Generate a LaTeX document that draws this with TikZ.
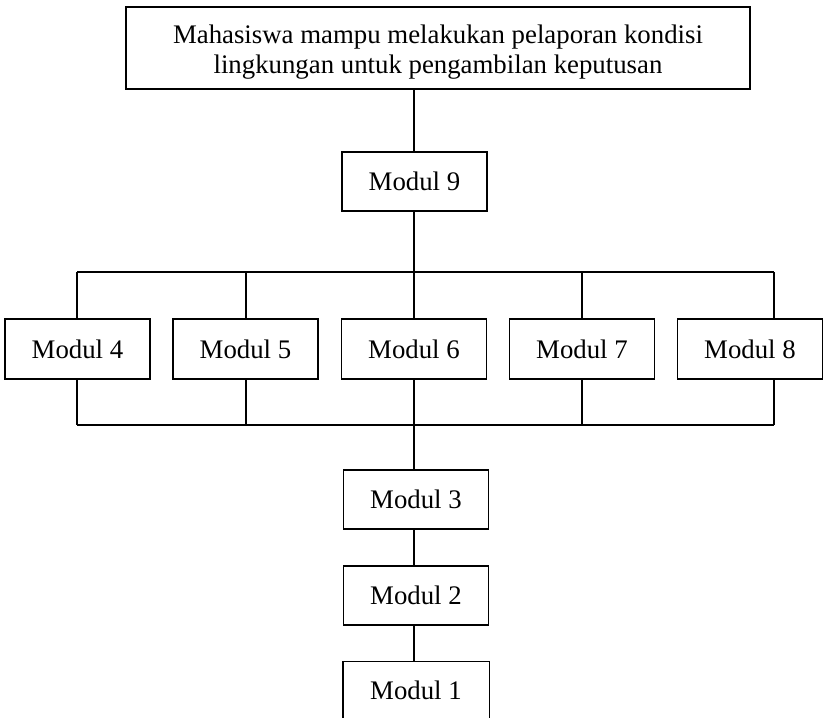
\documentclass[tikz,border=0pt]{standalone}
\usepackage{fontspec}
\setmainfont{Liberation Serif}
\begin{document}
\begin{tikzpicture}[x=1pt,y=-1pt,
  line/.style={line width=1.3pt},
  txt/.style={font=\fontsize{26.8}{30.5}\selectfont,inner sep=0pt},
  box/.style={draw,line width=1.3pt,rectangle,inner sep=0pt,minimum width=145pt,minimum height=60pt,txt,align=center},
  topbox/.style={box,minimum width=624pt,minimum height=82pt}]
\useasboundingbox (0,0) rectangle (823,718);
\node[topbox] (goal) at (438,48) {};
\node[txt,anchor=base] (goal1) at (438,43) {Mahasiswa mampu melakukan pelaporan kondisi};
\node[txt,anchor=base] (goal2) at (438,73) {lingkungan untuk pengambilan keputusan};
\node[box,minimum height=59pt] (m9) at (414.5,181.5) {Modul 9};
\node[box] (m4) at (77.5,349) {Modul 4};
\node[box] (m5) at (245.5,349) {Modul 5};
\node[box] (m6) at (414,349) {Modul 6};
\node[box] (m7) at (582,349) {Modul 7};
\node[box] (m8) at (750,349) {Modul 8};
\node[box,minimum height=59pt] (m3) at (416,499.5) {Modul 3};
\node[box,minimum height=59pt] (m2) at (416,595.5) {Modul 2};
\node[box,draw=none,minimum height=56pt] (m1) at (416,690) {Modul 1};
\draw[line] (m1.south west) -- (m1.north west) -- (m1.north east) -- (m1.south east);
% upper bar
\coordinate (b4) at (77,272);
\coordinate (b5) at (246,272);
\coordinate (b6) at (414,272);
\coordinate (b7) at (582,272);
\coordinate (b8) at (774,272);
\draw[line] (b4) -- (b8);
\draw[line] (goal.south -| b6) -- (b6 |- m9.north);
\draw[line] (m9.south -| b6) -- (b6);
\foreach \i in {4,5,6,7,8} {\draw[line] (b\i) -- (b\i |- m\i.north);}
% lower bar
\coordinate (c4) at (77,425);
\coordinate (c5) at (246,425);
\coordinate (c6) at (414,425);
\coordinate (c7) at (582,425);
\coordinate (c8) at (774,425);
\draw[line] (c4) -- (c8);
\foreach \i in {4,5,6,7,8} {\draw[line] (c\i |- m\i.south) -- (c\i);}
\draw[line] (c6) -- (c6 |- m3.north);
\draw[line] (c6 |- m3.south) -- (c6 |- m2.north);
\draw[line] (c6 |- m2.south) -- (c6 |- m1.north);
\end{tikzpicture}
\end{document}
